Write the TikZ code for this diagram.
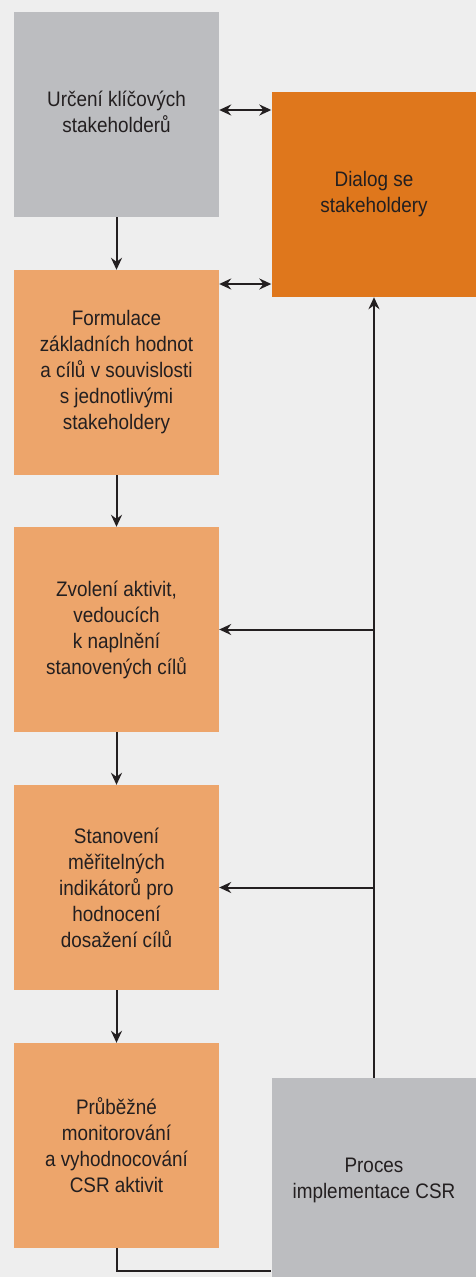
\documentclass[tikz,border=0pt]{standalone}
\usepackage{fontspec}
\setmainfont{Liberation Sans}[FakeStretch=0.90]
\usetikzlibrary{arrows.meta,calc}
\definecolor{bggrey}{HTML}{EEEEEE}
\definecolor{boxgrey}{HTML}{BCBDC0}
\definecolor{boxorange}{HTML}{DF771C}
\definecolor{boxpeach}{HTML}{EDA56B}
\definecolor{inkblack}{HTML}{231F20}

\begin{document}
\begin{tikzpicture}[x=1pt,y=-1pt,
    box/.style={minimum width=205pt,minimum height=205pt,inner sep=0pt,
      align=center,text=inkblack,font=\fontsize{21}{26}\selectfont},
    link/.style={line width=2pt,draw=inkblack,-{Stealth[length=12pt,width=11pt,inset=4pt]}},
    dlink/.style={link,{Stealth[length=12pt,width=11pt,inset=4pt]}-{Stealth[length=12pt,width=11pt,inset=4pt]}},
    plain/.style={line width=2pt,draw=inkblack}]
  %%%%% background %%%%%
  \fill[bggrey] (0,0) rectangle (476,1277);
  \useasboundingbox (0,0) rectangle (476,1277);

  % left column
  \node[box,fill=boxgrey]  (urceni)    at (116.5,114.5)  {\raisebox{5pt}{\begin{tabular}{@{}c@{}}Určení klíčových\\stakeholderů\end{tabular}}};
  \node[box,fill=boxpeach] (formulace) at (116.5,372.5)  {Formulace\\základních hodnot\\a cílů v souvislosti\\s jednotlivými\\stakeholdery};
  \node[box,fill=boxpeach] (zvoleni)   at (116.5,629.5)  {Zvolení aktivit,\\vedoucích\\k naplnění\\stanovených cílů};
  \node[box,fill=boxpeach] (stanoveni) at (116.5,887.5)  {Stanovení\\měřitelných\\indikátorů pro\\hodnocení\\dosažení cílů};
  \node[box,fill=boxpeach] (prubezne)  at (116.5,1145.5) {Průběžné\\monitorování\\a vyhodnocování\\CSR aktivit};

  % right column
  \node[box,fill=boxorange] (dialog) at (374,194.5)  {Dialog se\\stakeholdery};
  \node[box,fill=boxgrey]   (proces) at (374,1180.5) {Proces\\implementace CSR};

  \coordinate (base) at (0,1271);

  % flow down
  \draw[link] (urceni) -- (formulace);
  \draw[link] (formulace) -- (zvoleni);
  \draw[link] (zvoleni) -- (stanoveni);
  \draw[link] (stanoveni) -- (prubezne);

  % dialog
  \draw[dlink] (urceni.east |- 0,110) -- (dialog.west |- 0,110);
  \draw[dlink] (formulace.east |- 0,284) -- (dialog.west |- 0,284);

  % feedback
  \draw[link] (proces.north) -- (dialog.south);
  \draw[link] (proces.north |- zvoleni.east) -- (zvoleni.east);
  \draw[link] (proces.north |- stanoveni.east) -- (stanoveni.east);
  \draw[plain] (prubezne.south) |- (proces.west |- base);
\end{tikzpicture}
\end{document}
